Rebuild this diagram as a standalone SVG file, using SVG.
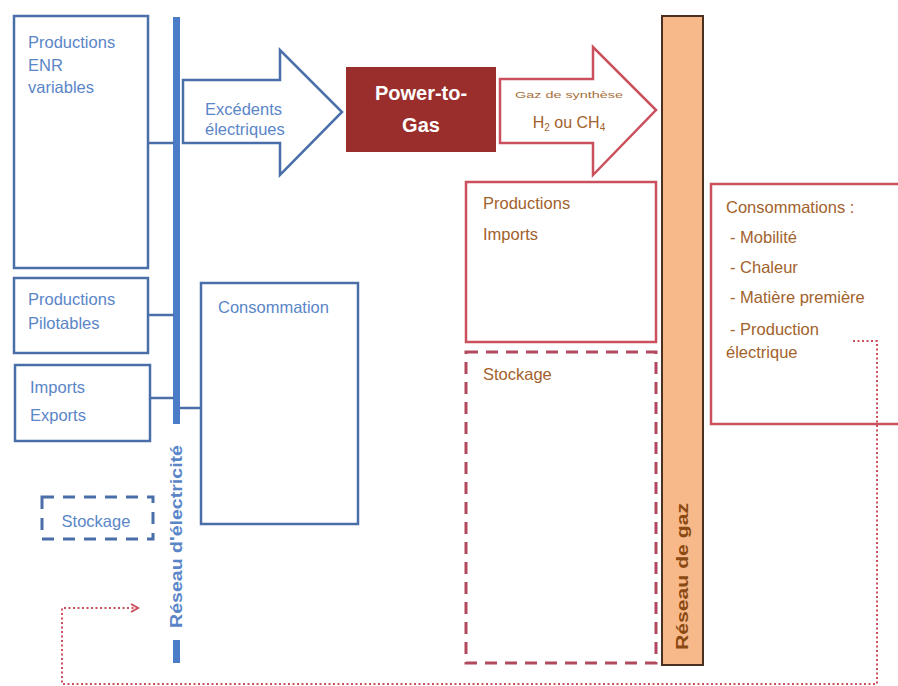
<svg xmlns="http://www.w3.org/2000/svg" width="898" height="686" viewBox="0 0 898 686">
<defs>
<style>
.bbox{fill:#fff;stroke:#4a6fa8;stroke-width:2.5}
.rbox{fill:#fff;stroke:#c9505c;stroke-width:2.5}
.bt{font-family:"Liberation Sans",Arial,sans-serif;font-size:16.5px;fill:#5a86c8}
.ot{font-family:"Liberation Sans",Arial,sans-serif;font-size:16.5px;fill:#a2622c}
.conn{stroke:#4a6fa8;stroke-width:2.5;fill:none}
</style>
<marker id="chev" viewBox="0 0 10 10" refX="8" refY="5" markerWidth="10" markerHeight="10" markerUnits="userSpaceOnUse" orient="auto">
<path d="M1,1 L8,5 L1,9" fill="none" stroke="#c9505c" stroke-width="2"/>
</marker>
</defs>
<rect width="898" height="686" fill="#fff"/>

<g id="enr">
<rect class="bbox" x="14" y="16" width="134" height="252"/>
<text class="bt" x="28" y="48">Productions</text>
<text class="bt" x="28" y="71">ENR</text>
<text class="bt" x="28" y="93">variables</text>
</g>

<g id="pilotables">
<rect class="bbox" x="14" y="278" width="134" height="75"/>
<text class="bt" x="28" y="305">Productions</text>
<text class="bt" x="28" y="329">Pilotables</text>
</g>

<g id="imports-exports">
<rect class="bbox" x="15" y="365" width="135" height="76"/>
<text class="bt" x="30" y="393">Imports</text>
<text class="bt" x="30" y="421">Exports</text>
</g>

<g id="stockage-elec">
<rect x="42" y="497" width="111" height="42" fill="#fff" stroke="#4a6fa8" stroke-width="3" stroke-dasharray="12,9"/>
<text class="bt" x="96" y="527" text-anchor="middle">Stockage</text>
</g>

<g id="reseau-elec">
<rect x="173" y="17" width="7" height="407" fill="#4a7cc7"/>
<rect x="173" y="640" width="7" height="23" fill="#4a7cc7"/>
<text transform="translate(182,628) rotate(-90)" font-family="'Liberation Sans',Arial,sans-serif" font-size="16" font-weight="bold" fill="#5a86c8" textLength="183" lengthAdjust="spacingAndGlyphs">Réseau d'électricité</text>
</g>

<g id="consommation">
<rect class="bbox" x="201" y="283" width="157" height="241"/>
<text class="bt" x="218" y="313">Consommation</text>
</g>

<g id="excedents">
<polygon points="183,80 280,80 280,50 342,112 280,175 280,143 183,143" fill="#fff" stroke="#4a6fa8" stroke-width="2.5"/>
<text class="bt" x="205" y="115">Excédents</text>
<text class="bt" x="205" y="135">électriques</text>
</g>

<g id="power-to-gas">
<rect x="346" y="67" width="150" height="85" fill="#9a2e2c"/>
<text x="421" y="100" text-anchor="middle" font-family="'Liberation Sans',Arial,sans-serif" font-size="20" font-weight="bold" fill="#fff">Power-to-</text>
<text x="421" y="132" text-anchor="middle" font-family="'Liberation Sans',Arial,sans-serif" font-size="20" font-weight="bold" fill="#fff">Gas</text>
</g>

<g id="gaz-synthese">
<polygon points="500,79 593,79 593,47 656,110 593,175 593,143 500,143" fill="#fff" stroke="#c9505c" stroke-width="2.5"/>
<text x="515" y="98" font-family="'Liberation Sans',Arial,sans-serif" font-size="9.5" fill="#a8703c" textLength="108" lengthAdjust="spacingAndGlyphs">Gaz de synthèse</text>
<text x="569" y="128" text-anchor="middle" font-family="'Liberation Sans',Arial,sans-serif" font-size="16" fill="#a2622c">H<tspan font-size="10" dy="3">2</tspan><tspan dy="-3"> ou CH</tspan><tspan font-size="10" dy="3">4</tspan></text>
</g>

<g id="productions-imports">
<rect class="rbox" x="466" y="182" width="190" height="160"/>
<text class="ot" x="483" y="209">Productions</text>
<text class="ot" x="483" y="240">Imports</text>
</g>

<g id="stockage-gaz">
<rect x="466" y="352" width="190" height="311" fill="#fff" stroke="#b04a5c" stroke-width="3" stroke-dasharray="12,8"/>
<text class="ot" x="483" y="380">Stockage</text>
</g>

<g id="reseau-gaz">
<rect x="662" y="16" width="41" height="649" fill="#f8b98a" stroke="#4a3020" stroke-width="2"/>
<text transform="translate(688,650) rotate(-90)" font-family="'Liberation Sans',Arial,sans-serif" font-size="16" font-weight="bold" fill="#8a4a12" textLength="147" lengthAdjust="spacingAndGlyphs">Réseau de gaz</text>
</g>

<g id="consommations">
<rect class="rbox" x="711" y="184" width="200" height="240"/>
<text class="ot" x="726" y="213">Consommations :</text>
<text class="ot" x="730" y="243">- Mobilité</text>
<text class="ot" x="730" y="273">- Chaleur</text>
<text class="ot" x="730" y="303">- Matière première</text>
<text class="ot" x="730" y="335">- Production</text>
<text class="ot" x="726" y="358">électrique</text>
</g>

<g id="connectors">
<line class="conn" x1="148" y1="143" x2="174" y2="143"/>
<line class="conn" x1="148" y1="315" x2="174" y2="315"/>
<line class="conn" x1="150" y1="398" x2="174" y2="398"/>
<line class="conn" x1="180" y1="408" x2="201" y2="408"/>
<path d="M853,341 H877 V684 H62 V608 H138" fill="none" stroke="#c9505c" stroke-width="2" stroke-dasharray="2,2.5" marker-end="url(#chev)"/>
</g>
</svg>
